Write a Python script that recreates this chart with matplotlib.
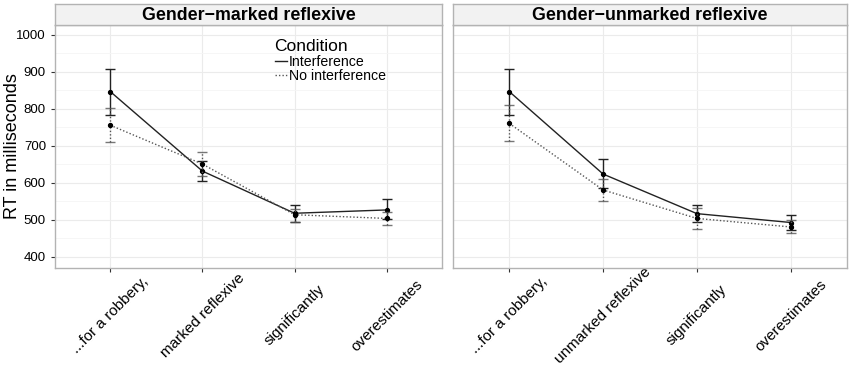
import numpy as np
import matplotlib
matplotlib.use('Agg')
import matplotlib.pyplot as plt
from matplotlib.lines import Line2D

plt.rcParams['font.family'] = ['Liberation Sans', 'DejaVu Sans']

panels = ['Gender\u2212marked reflexive', 'Gender\u2212unmarked reflexive']
xlabels = [['...for a robbery,', 'marked reflexive', 'significantly', 'overestimates'],
           ['...for a robbery,', 'unmarked reflexive', 'significantly', 'overestimates']]

# mean RT, lower and upper error bounds
interf_mean = [[847, 632, 518, 527], [847, 624, 517, 493]]
interf_lo = [[785, 604, 495, 502], [785, 585, 494, 473]]
interf_hi = [[909, 659, 541, 557], [909, 665, 541, 512]]
noint_mean = [[756, 651, 514, 504], [761, 581, 504, 481]]
noint_lo = [[710, 620, 495, 485], [714, 552, 476, 464]]
noint_hi = [[803, 684, 530, 522], [810, 610, 533, 501]]

fig = plt.figure(figsize=(8.5, 3.69), dpi=100)
lefts = [55 / 850, 453 / 850]
widths = [387 / 850, 394 / 850]
bottom = 1 - 268 / 369
height = (268 - 25) / 369
strip_h = 21 / 369

border = '#b3b3b3'
x = np.arange(1, 5)

for i in range(2):
    ax = fig.add_axes([lefts[i], bottom, widths[i], height])
    ax.set_xlim(0.4, 4.6)
    ax.set_ylim(370, 1027)
    ax.set_yticks(range(400, 1001, 100))
    ax.set_yticks(range(450, 1001, 100), minor=True)
    ax.set_xticks(x)
    ax.grid(True, which='major', color='#ebebeb', lw=0.8)
    ax.grid(True, which='minor', axis='y', color='#f5f5f5', lw=0.6)
    ax.set_axisbelow(True)
    for s in ax.spines.values():
        s.set_color(border)
        s.set_linewidth(1.0)

    m = np.array(interf_mean[i])
    yerr = [m - np.array(interf_lo[i]), np.array(interf_hi[i]) - m]
    ax.errorbar(x, m, yerr=yerr, fmt='none', ecolor='#222222', elinewidth=1.0,
                capsize=3.3, capthick=1.0)
    ax.plot(x, m, color='#222222', lw=1.0, marker='o', ms=2.8, mfc='black', mec='black')

    m2 = np.array(noint_mean[i])
    yerr2 = [m2 - np.array(noint_lo[i]), np.array(noint_hi[i]) - m2]
    eb = ax.errorbar(x, m2, yerr=yerr2, fmt='none', ecolor='#555555', elinewidth=1.0,
                     capsize=3.3, capthick=1.0)
    for c in eb[2]:
        c.set_linestyle((0, (1, 1.5)))
    for c in eb[1]:
        c.set_alpha(0.8)
    ax.plot(x, m2, color='#555555', lw=1.0, ls=(0, (1, 1.5)))
    ax.plot(x, m2, ls='none', marker='o', ms=2.8, mfc='black', mec='black')

    ax.set_xticklabels(xlabels[i], rotation=45, ha='center', va='center',
                       rotation_mode='anchor', fontsize=11, color='black')
    ax.tick_params(axis='x', length=3, color='#333333', pad=31)
    ax.tick_params(axis='y', length=3, color='#333333', labelsize=9.5, labelcolor='black')
    ax.tick_params(which='minor', length=0)
    if i == 1:
        ax.set_yticklabels([])
        ax.tick_params(axis='y', length=0)

    # strip on top of the panel
    sax = fig.add_axes([lefts[i], bottom + height, widths[i], strip_h])
    sax.set_facecolor('#f2f2f2')
    sax.set_xticks([])
    sax.set_yticks([])
    for s in sax.spines.values():
        s.set_color(border)
        s.set_linewidth(1.0)
    sax.text(0.5, 0.45, panels[i], ha='center', va='center', fontsize=12.8,
             fontweight='bold', transform=sax.transAxes)

    if i == 0:
        handles = [Line2D([], [], color='#222222', lw=1.0),
                   Line2D([], [], color='#555555', lw=1.0, ls=(0, (1, 1.5)))]
        leg = ax.legend(handles, ['Interference', 'No interference'], title='Condition',
                        loc='upper left', bbox_to_anchor=(0.56, 0.955), frameon=False,
                        fontsize=10.2, title_fontsize=12.5, handlelength=0.9,
                        handletextpad=0.1, borderaxespad=0, labelspacing=0.0,
                        borderpad=0.2)
        leg._legend_box.align = 'left'
        leg._legend_box.sep = 1

fig.text(13 / 850, 1 - 146.5 / 369, 'RT in milliseconds', rotation=90,
         ha='center', va='center', fontsize=13)

fig.savefig('out.png', dpi=100)
